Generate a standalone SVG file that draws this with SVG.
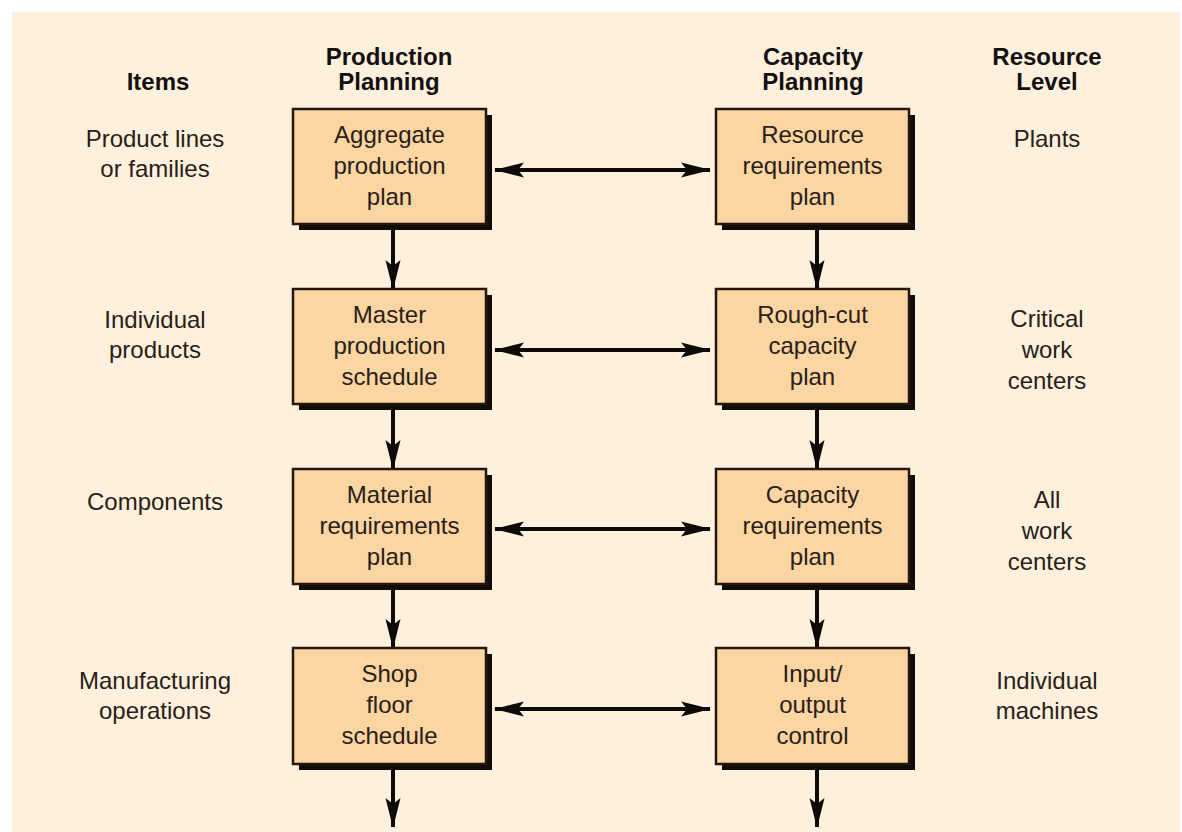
<svg xmlns="http://www.w3.org/2000/svg" width="1182" height="832" viewBox="0 0 1182 832">
  <style>
    text { font-family: "Liberation Sans", Arial, Helvetica, sans-serif; fill: #2a2018; text-anchor: middle; }
    .hd { font-size: 24px; font-weight: bold; fill: #141010; }
    .lb { font-size: 24px; }
    .box { fill: #fbd5a2; stroke: #24160c; stroke-width: 2.5; }
    .shadow { fill: #120c08; }
    .conn { stroke: #0e0a08; stroke-width: 4; fill: none; }
  </style>
  <defs>
    <marker id="head" markerUnits="userSpaceOnUse" viewBox="0 0 30 16" refX="29" refY="8" markerWidth="30" markerHeight="16" orient="auto-start-reverse">
      <path d="M30,8 L0,0.5 L6,8 L0,15.5 Z" fill="#0e0a08"/>
    </marker>
  </defs>

  <rect x="0" y="0" width="1182" height="832" fill="#ffffff"/>
  <rect x="12" y="12" width="1168" height="820" fill="#fdf0dc"/>

  <!-- column headings -->
  <g id="headings">
    <text class="hd" x="158" y="90">Items</text>
    <text class="hd" x="389" y="65">Production</text>
    <text class="hd" x="389" y="90">Planning</text>
    <text class="hd" x="813" y="65">Capacity</text>
    <text class="hd" x="813" y="90">Planning</text>
    <text class="hd" x="1047" y="65">Resource</text>
    <text class="hd" x="1047" y="90">Level</text>
  </g>

  <!-- item labels (left column) -->
  <g id="items">
    <text class="lb" x="155" y="147">Product lines</text>
    <text class="lb" x="155" y="177">or families</text>
    <text class="lb" x="155" y="328">Individual</text>
    <text class="lb" x="155" y="358">products</text>
    <text class="lb" x="155" y="510">Components</text>
    <text class="lb" x="155" y="689">Manufacturing</text>
    <text class="lb" x="155" y="719">operations</text>
  </g>

  <!-- resource levels (right column) -->
  <g id="resources">
    <text class="lb" x="1047" y="147">Plants</text>
    <text class="lb" x="1047" y="327">Critical</text>
    <text class="lb" x="1047" y="358">work</text>
    <text class="lb" x="1047" y="389">centers</text>
    <text class="lb" x="1047" y="508">All</text>
    <text class="lb" x="1047" y="539">work</text>
    <text class="lb" x="1047" y="570">centers</text>
    <text class="lb" x="1047" y="689">Individual</text>
    <text class="lb" x="1047" y="719">machines</text>
  </g>

  <!-- connectors -->
  <g id="connectors">
    <line class="conn" x1="393" y1="230" x2="393" y2="289" marker-end="url(#head)"/>
    <line class="conn" x1="393" y1="410" x2="393" y2="469" marker-end="url(#head)"/>
    <line class="conn" x1="393" y1="590" x2="393" y2="648" marker-end="url(#head)"/>
    <line class="conn" x1="393" y1="770" x2="393" y2="827" marker-end="url(#head)"/>
    <line class="conn" x1="817" y1="230" x2="817" y2="289" marker-end="url(#head)"/>
    <line class="conn" x1="817" y1="410" x2="817" y2="469" marker-end="url(#head)"/>
    <line class="conn" x1="817" y1="590" x2="817" y2="648" marker-end="url(#head)"/>
    <line class="conn" x1="817" y1="770" x2="817" y2="827" marker-end="url(#head)"/>
    <line class="conn" x1="495" y1="170" x2="710" y2="170" marker-start="url(#head)" marker-end="url(#head)"/>
    <line class="conn" x1="495" y1="350" x2="710" y2="350" marker-start="url(#head)" marker-end="url(#head)"/>
    <line class="conn" x1="495" y1="529" x2="710" y2="529" marker-start="url(#head)" marker-end="url(#head)"/>
    <line class="conn" x1="495" y1="709" x2="710" y2="709" marker-start="url(#head)" marker-end="url(#head)"/>
  </g>

  <!-- production planning boxes -->
  <g id="aggregate-production-plan">
    <rect class="shadow" x="299" y="115" width="193" height="115"/>
    <rect class="box" x="293" y="109" width="193" height="115"/>
    <text class="lb" x="389.5" y="143">Aggregate</text>
    <text class="lb" x="389.5" y="174">production</text>
    <text class="lb" x="389.5" y="205">plan</text>
  </g>
  <g id="master-production-schedule">
    <rect class="shadow" x="299" y="295" width="193" height="115"/>
    <rect class="box" x="293" y="289" width="193" height="115"/>
    <text class="lb" x="389.5" y="323">Master</text>
    <text class="lb" x="389.5" y="354">production</text>
    <text class="lb" x="389.5" y="385">schedule</text>
  </g>
  <g id="material-requirements-plan">
    <rect class="shadow" x="299" y="475" width="193" height="115"/>
    <rect class="box" x="293" y="469" width="193" height="115"/>
    <text class="lb" x="389.5" y="503">Material</text>
    <text class="lb" x="389.5" y="534">requirements</text>
    <text class="lb" x="389.5" y="565">plan</text>
  </g>
  <g id="shop-floor-schedule">
    <rect class="shadow" x="299" y="654" width="193" height="116"/>
    <rect class="box" x="293" y="648" width="193" height="116"/>
    <text class="lb" x="389.5" y="682">Shop</text>
    <text class="lb" x="389.5" y="713">floor</text>
    <text class="lb" x="389.5" y="744">schedule</text>
  </g>

  <!-- capacity planning boxes -->
  <g id="resource-requirements-plan">
    <rect class="shadow" x="722" y="115" width="193" height="115"/>
    <rect class="box" x="716" y="109" width="193" height="115"/>
    <text class="lb" x="812.5" y="143">Resource</text>
    <text class="lb" x="812.5" y="174">requirements</text>
    <text class="lb" x="812.5" y="205">plan</text>
  </g>
  <g id="rough-cut-capacity-plan">
    <rect class="shadow" x="722" y="295" width="193" height="115"/>
    <rect class="box" x="716" y="289" width="193" height="115"/>
    <text class="lb" x="812.5" y="323">Rough-cut</text>
    <text class="lb" x="812.5" y="354">capacity</text>
    <text class="lb" x="812.5" y="385">plan</text>
  </g>
  <g id="capacity-requirements-plan">
    <rect class="shadow" x="722" y="475" width="193" height="115"/>
    <rect class="box" x="716" y="469" width="193" height="115"/>
    <text class="lb" x="812.5" y="503">Capacity</text>
    <text class="lb" x="812.5" y="534">requirements</text>
    <text class="lb" x="812.5" y="565">plan</text>
  </g>
  <g id="input-output-control">
    <rect class="shadow" x="722" y="654" width="193" height="116"/>
    <rect class="box" x="716" y="648" width="193" height="116"/>
    <text class="lb" x="812.5" y="682">Input/</text>
    <text class="lb" x="812.5" y="713">output</text>
    <text class="lb" x="812.5" y="744">control</text>
  </g>
</svg>
